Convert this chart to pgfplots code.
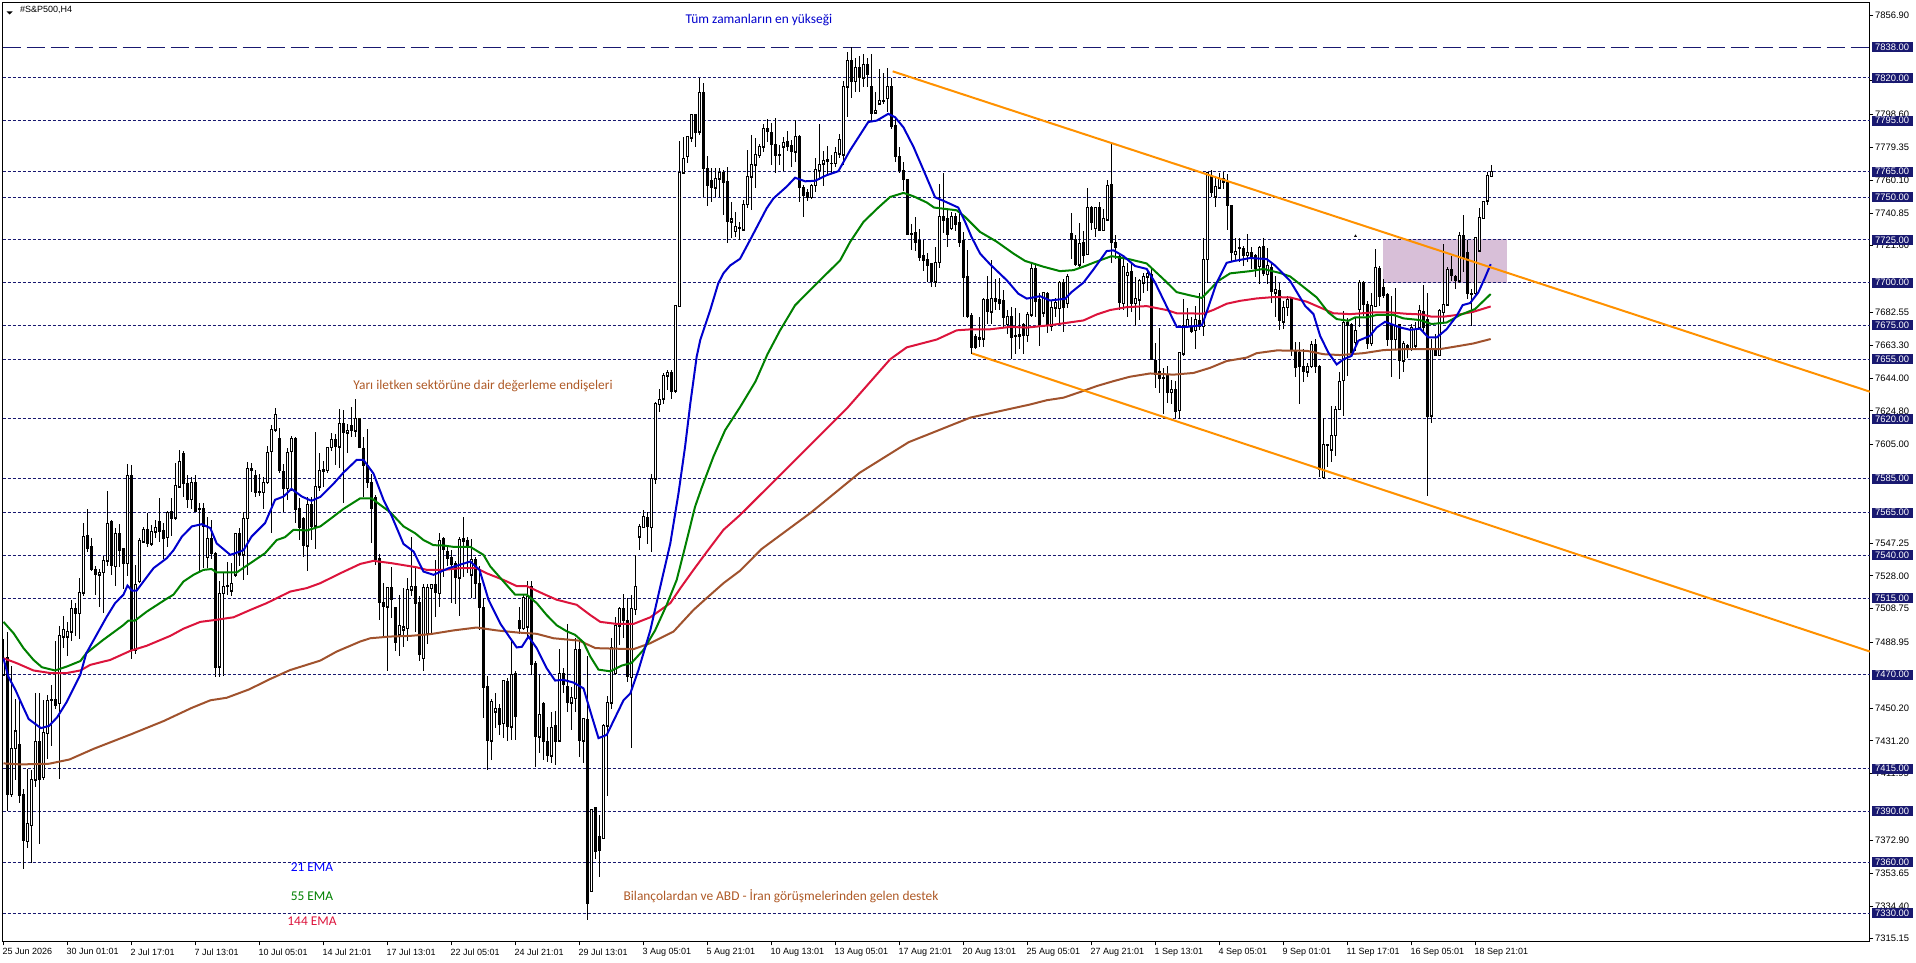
\documentclass[border=0pt]{standalone}
\usepackage{fontspec}
\setmainfont{Liberation Sans}
\newfontfamily\notes{Carlito}
\usepackage{pgfplots}
\usepackage{pgfplotstable}
\pgfplotsset{compat=1.18}
\definecolor{lvl}{RGB}{25,25,112}
\definecolor{emaA}{RGB}{0,0,205}
\definecolor{emaB}{RGB}{0,128,0}
\definecolor{emaC}{RGB}{220,20,60}
\definecolor{emaD}{RGB}{160,82,45}
\definecolor{trend}{RGB}{255,145,0}
\definecolor{zone}{RGB}{216,191,216}
\pgfplotstableread{
i o h l c
0 7470 7491 7470 7479
1 7480 7495 7390 7400
2 7400 7475 7398 7427
3 7427 7456 7408 7437
4 7429 7456 7395 7399
5 7400 7403 7356 7373
6 7372.4 7415 7368.5 7382.6
7 7381.8 7414 7359.7 7408.6
8 7408.4 7459 7404 7430.8
9 7431 7459 7371 7408.7
10 7410 7455 7408 7436.3
11 7435.7 7458 7420.5 7454.7
12 7455.7 7464 7428 7455
13 7455.7 7490 7450 7452
14 7453.3 7498.7 7409 7492.8
15 7492.4 7504.5 7485.6 7496.7
16 7492.4 7501 7481 7495.5
17 7495.3 7514 7490 7508.8
18 7509 7512 7493 7506
19 7506 7526.6 7491 7518.2
20 7518 7559 7516 7551
21 7551.4 7567 7541.7 7544
22 7545 7550 7531 7531.5
23 7531.9 7534 7517 7528.6
24 7528.6 7532 7510 7530
25 7530 7539.7 7506 7537
26 7537 7578 7534 7558.9
27 7559.8 7561 7528.6 7533.8
28 7533.5 7556 7522 7552.6
29 7552.6 7558.5 7533 7542.8
30 7544 7544 7520 7535
31 7535.4 7593.7 7528 7586.6
32 7586.6 7593 7479 7484.6
33 7484.6 7534.4 7482 7523
34 7524.7 7550 7524 7549
35 7548 7556.5 7547 7555
36 7555 7564.7 7545 7547
37 7546.8 7558 7545.6 7553.8
38 7554 7561 7550 7556.5
39 7559.6 7573.5 7548 7554
40 7554.6 7559 7537.8 7550
41 7550.7 7566 7545 7565
42 7565.5 7573.5 7551.4 7561.6
43 7562 7594 7561 7581
44 7580.4 7602 7580 7595
45 7599.5 7601.5 7574 7582
46 7582.3 7587 7567.7 7573
47 7573 7586 7567 7582.7
48 7583 7587 7565.7 7566
49 7567.5 7571 7530 7567
50 7567.7 7571 7532.5 7557
51 7539 7562.8 7532.5 7550
52 7550 7561 7538 7541
53 7541.3 7542 7468.5 7474
54 7474.8 7524.7 7468.5 7517.8
55 7517.8 7529.5 7469 7522
56 7522.3 7536.4 7517 7521.7
57 7519.4 7535.8 7516 7523.7
58 7528.6 7553.4 7527.6 7553
59 7553 7556 7533.5 7540.3
60 7540.3 7565.7 7525.6 7561.8
61 7561.8 7594.5 7528.6 7591
62 7591 7594 7577 7589.8
63 7587 7590 7574.5 7577
64 7577.6 7588 7575 7576.9
65 7576.9 7586 7567 7583
66 7583 7604 7582 7600.5
67 7601 7616.5 7553 7613.6
68 7613.6 7626.3 7612.6 7622.8
69 7608.7 7615 7588.6 7589.8
70 7589.4 7593.7 7565.7 7579.4
71 7579.4 7603 7572.6 7600.5
72 7601 7610 7578 7608.7
73 7608.3 7609.7 7559 7566.7
74 7567.7 7573.5 7549 7556.5
75 7561.5 7562.8 7539 7545.6
76 7545.6 7574.5 7531 7569.6
77 7569.6 7574.5 7549 7557
78 7557.3 7612.6 7543.6 7580.4
79 7580.4 7600 7578 7589.8
80 7590.5 7595.6 7580 7589
81 7589.8 7603.8 7588.6 7603.4
82 7603.4 7611.7 7601 7608
83 7608 7611 7593 7603.8
84 7603.8 7625.7 7591.5 7617.5
85 7617.5 7625 7571 7612
86 7612 7617 7600 7613.2
87 7616 7627 7609.7 7613.2
88 7613.2 7631.6 7609.7 7620.5
89 7620.5 7620.5 7603 7603
90 7602.9 7609.7 7574.5 7592.7
91 7593 7614 7579.4 7582.7
92 7582.9 7588 7547.5 7567.3
93 7574 7575.5 7534.4 7537.8
94 7538.3 7540.7 7502 7512.3
95 7512.5 7523.7 7493 7510
96 7510 7521.5 7472 7521
97 7521.3 7533 7503 7514.3
98 7509.6 7510 7484.2 7489
99 7493.4 7516.5 7481 7498.7
100 7496.3 7521 7486 7498
101 7497.3 7527 7490 7520.2
102 7519.8 7551 7516 7522
103 7522 7532.5 7495 7512
104 7512.3 7516 7478 7482
105 7479.7 7523 7472 7521.3
106 7494 7523 7488 7521
107 7520.8 7523.5 7494 7522.7
108 7523 7537.4 7504 7518
109 7517.8 7553.4 7510 7549
110 7550 7551 7527.6 7543.2
111 7542.3 7546 7533.5 7538.3
112 7539 7543 7512 7534.4
113 7535.4 7537 7511.6 7527
114 7527 7551 7504.5 7549.5
115 7550 7562.8 7527.6 7548
116 7549 7551 7529.5 7545
117 7528.6 7549.5 7515 7537.8
118 7537.4 7539 7515 7523.7
119 7523.7 7534 7496 7509.4
120 7509.6 7515 7444.5 7462.5
121 7463 7469.3 7414 7431.4
122 7431.4 7456 7420 7454.3
123 7448.4 7459 7438.6 7450.4
124 7450 7453 7434.7 7440.6
125 7441.6 7467 7432.8 7466.4
126 7466 7467.8 7431.4 7439.6
127 7439.6 7490.8 7432 7470
128 7471 7472 7432 7445.5
129 7502 7509.6 7494 7497
130 7497.3 7517 7496 7515.3
131 7498 7524.7 7492 7516
132 7521.7 7524.7 7470 7475.8
133 7476.8 7478 7416 7433.7
134 7433.7 7470 7424 7446.4
135 7453 7454 7420 7431
136 7431 7439.6 7419 7422.4
137 7422.4 7448.4 7418 7439.2
138 7440 7449 7417 7431
139 7431.4 7485 7430.8 7471
140 7471 7474 7459 7464
141 7463 7500 7448.4 7453.7
142 7453.7 7463 7437.7 7456.8
143 7456.2 7491.4 7448 7484.6
144 7484.6 7491 7421.6 7431.4
145 7431.4 7444.5 7418 7444.5
146 7444 7481 7326 7336
147 7343 7391.5 7343 7391
148 7392 7392 7362 7366.6
149 7375 7388 7351.5 7367
150 7374 7441 7373.4 7440
151 7440 7457.6 7399 7453.7
152 7453.7 7491.4 7450 7486
153 7471 7503.7 7470 7499
154 7498.6 7510 7487.5 7509
155 7509 7517.4 7491.4 7502
156 7502 7515 7466 7469
157 7468.5 7516.8 7427 7509
158 7508.4 7540 7505 7522
159 7551 7558.5 7543 7557
160 7556.5 7566.7 7556 7562.8
161 7562.4 7565.3 7546.7 7557
162 7556.5 7587.6 7542 7585
163 7585 7630 7582 7629
164 7628.6 7637.4 7624 7631.6
165 7631.8 7647 7629 7645.7
166 7645.5 7648.8 7637 7647
167 7647 7649 7631.6 7636
168 7636.7 7687 7635.5 7686.3
169 7686 7783 7686 7764.5
170 7764.5 7785.6 7764 7773
171 7774 7786 7770 7785.6
172 7785 7799 7782.7 7798.3
173 7798.3 7799 7779.7 7788
174 7788.5 7820 7786.6 7811.6
175 7811.6 7817 7750 7767
176 7767 7774 7745 7757
177 7759.6 7767 7747.5 7755.7
178 7755.7 7767.4 7750.4 7761
179 7761 7767 7750 7764.7
180 7764.7 7766 7739.7 7759
181 7759.4 7768 7723.4 7735.8
182 7735.8 7747.5 7726 7737.3
183 7730 7741.6 7727 7733
184 7732.4 7735.5 7725 7731.8
185 7731 7748.5 7730 7746
186 7746 7778 7743.6 7762.5
187 7762 7786.6 7742.6 7769
188 7769 7784.6 7755.7 7774.9
189 7774.6 7781 7773 7780
190 7779.7 7793 7776.8 7790.5
191 7790.5 7796 7782.7 7788.5
192 7788 7793.4 7769 7781
193 7781 7796.4 7764.5 7774.5
194 7775.3 7780.7 7769 7774.5
195 7779.7 7785.6 7765.7 7782.3
196 7783 7789 7777 7780
197 7780.5 7783.7 7768 7776.8
198 7776.8 7795.4 7771 7785.6
199 7785.6 7786.5 7747.5 7756
200 7756 7757 7738.7 7751
201 7753 7755 7748 7750
202 7750 7758 7749 7757
203 7757 7773 7753 7766.4
204 7766 7793 7760 7769.4
205 7769.6 7777.4 7756.7 7771.5
206 7772.3 7780 7763 7771
207 7770 7775 7763.6 7769.6
208 7770 7779.7 7768 7776.4
209 7775.6 7787 7773 7783.9
210 7775 7818 7769 7815
211 7815 7835 7797 7830
212 7830 7838 7808 7818
213 7818 7832 7812 7826
214 7826 7833 7812 7820
215 7820 7834 7815 7828
216 7828 7832 7815 7822
217 7815 7834 7795 7799
218 7799.5 7812 7799 7801
219 7805 7825 7805 7807
220 7807 7823 7805 7806
221 7808 7826 7800 7815
222 7815 7820 7790 7791.7
223 7792.3 7797 7771 7773.7
224 7774 7779.6 7764 7766
225 7766 7770.8 7754 7760.6
226 7760.6 7761 7727.7 7728.3
227 7729 7734.6 7719 7728.3
228 7729.3 7738.5 7718.6 7723.8
229 7724.4 7731.7 7712.7 7715
230 7716 7724.8 7707 7713
231 7713.7 7717.4 7700.6 7709.8
232 7711 7711.5 7697.4 7700.4
233 7700.4 7721 7697.4 7712
234 7712 7757.7 7708.6 7738.9
235 7738.9 7764.3 7729 7736.5
236 7737.5 7744 7721 7728.3
237 7732 7741.4 7730.7 7738.9
238 7738.9 7741 7730 7734
239 7735 7743.4 7721 7723.8
240 7724.8 7729.7 7679.9 7702.7
241 7703.7 7719 7679.3 7679.9
242 7680.8 7682 7658 7662
243 7668.5 7670 7661 7662
244 7667.7 7680 7662 7666.6
245 7667 7691 7662 7690.2
246 7690.2 7703.7 7676 7682.8
247 7682.8 7713.4 7676 7690.6
248 7690.6 7702 7684 7689.2
249 7690 7702.6 7683.8 7688
250 7689.2 7695.5 7674 7679.8
251 7675.5 7683.8 7670 7680
252 7679.9 7685.7 7655.4 7668
253 7669 7685 7658 7668.5
254 7669.3 7682 7661 7668.6
255 7675.6 7676.5 7658 7669
256 7669 7683 7665 7681.4
257 7681 7710.7 7680 7708.3
258 7708.5 7711.5 7680 7689
259 7690 7694 7662.8 7674.5
260 7682.3 7694.5 7680 7694
261 7693.6 7694.5 7670.6 7674.9
262 7674.5 7690 7671.5 7685.2
263 7685.2 7691 7680 7688.6
264 7685 7701 7676.4 7700
265 7700 7701.9 7671 7685.2
266 7688 7704.8 7685 7703.4
267 7729 7741 7713.6 7725.3
268 7725 7728 7709.7 7710.6
269 7710.6 7734.7 7707.7 7723
270 7723.7 7730 7711.6 7716
271 7716.5 7755.6 7716 7743.9
272 7743.9 7745 7731 7735.5
273 7732 7744.5 7727 7743.9
274 7743.9 7747 7730.3 7730.8
275 7730.8 7743 7730 7737.4
276 7737 7760 7736.5 7757
277 7757.6 7781 7711.6 7723.4
278 7723.4 7728 7714 7720.4
279 7715.5 7716.5 7684 7688.6
280 7687.8 7716 7684 7709.7
281 7704.4 7711.6 7680 7705.8
282 7706.5 7711.6 7683 7687.8
283 7687.8 7703 7674.5 7690.5
284 7690 7702 7678 7701.5
285 7700 7705.7 7694 7703.4
286 7703.4 7707.8 7695 7705.4
287 7704.8 7707.8 7654.5 7655
288 7654.5 7664.3 7638.3 7646
289 7648 7673.5 7635.4 7644
290 7644.6 7650 7622.7 7643.6
291 7645.5 7651 7629.5 7635.8
292 7635.8 7642.8 7629 7637.3
293 7637.3 7642 7620.7 7624.6
294 7625 7659 7620 7658.8
295 7658.3 7690.5 7657 7674.9
296 7674.5 7685 7674 7678.4
297 7673.5 7680 7670.6 7671.6
298 7672 7686 7660.8 7678.4
299 7677.8 7693.8 7672 7674
300 7674.5 7726.3 7668.6 7713.6
301 7713.6 7765 7700 7764.4
302 7762.8 7766 7750 7753
303 7750.3 7762 7744.5 7756.6
304 7755.6 7764 7755 7761
305 7761 7765 7755 7758.5
306 7758.5 7763.8 7731 7745
307 7745 7745.5 7712 7717.5
308 7716.5 7726.3 7712.6 7718.5
309 7720.4 7726 7712 7719.8
310 7720 7721.5 7709.5 7715.7
311 7716 7728.4 7711.8 7717.7
312 7717.7 7720.6 7707.9 7714.6
313 7715.7 7717 7703.4 7708.3
314 7709.5 7721.5 7699 7720.6
315 7721.2 7726 7704 7705.6
316 7705 7720 7699 7709.9
317 7708.9 7711.8 7688 7695
318 7694 7704 7680 7696
319 7695.6 7699.7 7672.3 7677.6
320 7677 7689.3 7672.7 7685.4
321 7685.4 7692.3 7680.5 7690.3
322 7691.3 7691.5 7657 7660
323 7660 7665 7644.4 7650.2
324 7659 7665 7628.7 7650.6
325 7651 7661 7641.4 7648
326 7647.7 7653 7644.4 7650.8
327 7651 7665.9 7650 7663.5
328 7663.5 7666.9 7647 7650.8
329 7650.8 7651.5 7585.7 7590.6
330 7585.7 7620.4 7585 7605.3
331 7604.9 7605.6 7592 7605
332 7602 7627.4 7594.5 7610.6
333 7610.6 7627.8 7598 7625.8
334 7625.8 7647.3 7625 7642
335 7642.8 7683.5 7621.5 7676.6
336 7676.6 7679 7645 7674.7
337 7675.7 7676.5 7658 7659
338 7665 7680 7660 7672
339 7684.5 7701.7 7673.7 7700
340 7700 7700.8 7680.5 7687
341 7687.4 7689 7661 7664.5
342 7664.5 7694 7663 7686.4
343 7686 7719.6 7685.5 7709
344 7708.3 7710 7686 7692
345 7697.2 7702 7691 7692.7
346 7693.2 7694 7663 7666.9
347 7675.7 7692 7644.4 7666.9
348 7666.9 7697 7661 7674.7
349 7675.3 7676 7643.4 7654.2
350 7654.2 7666 7647.7 7664.5
351 7663 7664 7656 7661
352 7661 7675.5 7660 7673.7
353 7663 7677 7661 7672.7
354 7673.7 7686.8 7672.7 7683.5
355 7682.9 7698.5 7671.7 7673.7
356 7678.2 7693.7 7575 7621.5
357 7621.9 7667 7617.6 7661
358 7661 7669.8 7657 7657.5
359 7657.5 7684.5 7657 7683.5
360 7682.5 7722.6 7676.6 7687.4
361 7687 7709 7686.4 7707.5
362 7707.5 7715.3 7701 7704.4
363 7703.4 7704.4 7696 7701
364 7701 7729.8 7700 7727.9
365 7727.9 7739.6 7706 7714.8
366 7717.7 7725 7690.3 7693.6
367 7693.8 7696 7674.7 7693.3
368 7693.6 7727 7692.6 7726.5
369 7718.7 7744 7717.7 7738.2
370 7737.8 7748 7737 7747.6
371 7748 7765 7745.4 7762.7
372 7762.3 7769 7761.7 7765
}\candles
\pgfplotstableread{
i p
0 7479.5
1.2 7469
3 7461
4.8 7451.6
6.3 7444
9.35 7438.7
11.4 7440
13.4 7445
15.8 7454
19.2 7470
20.7 7482.6
24.2 7497.3
25.8 7504
27.9 7512
30 7517
31 7522.3
32.1 7519.4
33.3 7519.4
37.5 7532.5
40.8 7538.3
42.5 7543
44.6 7551
47.1 7557
49.6 7558.3
51.7 7556
53.3 7547
56.7 7540.3
60 7543
62 7551
65.4 7559
67.9 7572.6
70 7574.5
72 7579
74.6 7574.5
77 7572
79.2 7574.3
82.5 7582
85 7588.6
88.3 7596
90 7596
92.5 7588
95 7572.6
97.1 7562.8
100 7546.7
102.5 7542.3
105 7530.5
107.5 7528.6
111.3 7532.5
116.7 7536.4
119 7531.5
121.25 7514
124.2 7500
126.7 7491.4
128.3 7486
129.6 7486.4
131.25 7492.4
133.3 7485.6
135.8 7473.8
137.9 7466.6
140 7467
142.5 7465.4
145 7462
147.1 7445.5
148.75 7432.8
150.8 7434.7
155 7455
156.7 7459
158.75 7472.8
161.7 7496
164.2 7521.7
166.7 7547
168.75 7576.4
170.4 7603.8
171.7 7629
173.3 7656.6
174.2 7666.4
176.7 7684
178.7 7699.6
180 7705.5
181.65 7710
184.15 7714
186.65 7725
190.8 7743.6
192.5 7749.4
195.8 7756.3
197.9 7761.5
200.4 7759.4
202.9 7759.7
205.8 7763
208.7 7765.3
211.65 7777.6
216.2 7794.2
218.3 7795
221.2 7799
222.9 7797
225 7791
227.5 7779.6
230 7766
232.9 7750
234.95 7748
238.7 7744
240.4 7735.6
242 7726.8
244.15 7717
246.65 7710.7
250.8 7701.4
253.7 7693.5
255.8 7690.6
259.15 7692
261.65 7689.5
265.4 7690.5
267 7694.4
270 7700
272.5 7707.7
275.8 7718.5
277.5 7718.9
280 7715.5
282.9 7709.7
285.8 7708
287.9 7700
290.8 7686
293.3 7674
295.8 7674
299.6 7675
300.4 7680
303.3 7700
305.8 7711.6
307.5 7712.6
311.65 7714.4
315.8 7713.8
317.9 7710
321.65 7701
325.4 7686.4
327.5 7681.5
329.15 7668.8
331.2 7659
333.3 7652
335 7655
337 7657
338.7 7665.9
341.65 7668.8
343.3 7673.7
345.4 7677
349.15 7673.7
351.65 7672.3
354.15 7673
356.2 7667.8
358.3 7667.8
360.8 7672.7
363.3 7680.5
364.8 7686.8
366.65 7688
368.7 7694.2
370.4 7703
371.8 7710.8
}\emaone
\pgfplotstableread{
i p
0 7501
2.5 7494.4
5 7485.6
7.5 7478.7
9.6 7474.4
12.9 7472.5
15.8 7474.8
19.2 7478
20.7 7482.6
24.9 7490.4
29.9 7499
31.25 7501.8
32.9 7501.8
35.8 7507
40.4 7514
42.5 7517
45 7524.7
47.5 7528.6
50 7531.5
52 7532
53.3 7530
58.3 7530
61.7 7535.4
65.4 7541.3
68.3 7549
70.4 7550.7
72.5 7555
75.8 7554.6
79.2 7557
82.5 7562.8
85 7567.3
89.2 7573.5
92 7573.5
94.2 7569.6
96.7 7565.3
100 7557
102.9 7553
105 7549
107.5 7546
110 7545.8
112.5 7545
116.7 7545
120 7540.3
121.7 7533.5
125 7524.7
127.9 7517
130.8 7517
133.3 7512
135.8 7505
138.3 7499
140.8 7495.5
142.9 7493.4
145 7489
146.7 7480.7
148.75 7473
151.7 7472
154.6 7475.4
157 7476.9
160 7484.6
162.9 7496
165.8 7511
168.3 7525.6
170.4 7545
172.9 7568.6
174.6 7580
177.5 7598
180.4 7613.4
184.15 7627
188 7642
191 7658
194.15 7672
197.9 7686.7
203.7 7700.4
209.15 7713
211.65 7723.8
215 7735.6
218.7 7744
221.65 7750.2
225 7752.6
227.5 7750.6
230.8 7747
232.65 7744
238.3 7742.4
240.4 7738.5
244.15 7729.7
248.3 7724
252.5 7717
255.4 7712.7
260 7709.3
264.15 7706.7
267.5 7707.3
270.4 7709.7
272.9 7712
277 7715.5
281.65 7713.6
285.8 7711.2
290 7702
293.3 7694.4
296.65 7692.5
299.6 7691
303.7 7701
306.65 7705.4
311.65 7706.7
315 7708
319.15 7705.6
321.65 7703.6
326.2 7695.2
328.3 7691.3
331.2 7682.5
333.3 7678.6
336.2 7677.6
337.9 7679.6
340.8 7679.6
343.3 7681
347.5 7681
350 7679
354.15 7678
357 7675.7
360.8 7676.6
364.15 7681
367.9 7684.5
371.8 7693.3
}\ematwo
\pgfplotstableread{
i p
0 7479.7
3.3 7476.8
7.5 7472.5
11.7 7471
15.8 7471
19.2 7472.5
21.7 7475.8
26.7 7478.7
31.7 7484
35.8 7487
41.7 7492.8
45 7497
49.2 7501
52.5 7502
57.5 7503.7
61.7 7508
65.8 7512
71.7 7518.8
75.8 7520.8
79.2 7523.7
84.2 7529.5
89.2 7535
92.5 7536.8
97.1 7535.4
103.3 7533
105.8 7531.5
110 7531.5
114.2 7532.5
118.3 7532.5
120.8 7529.5
125 7525.6
128.3 7522
130.8 7522
135 7517.4
138.3 7514
143.3 7511
146.7 7505
149.2 7501
153.3 7499.8
157.5 7499.8
161.7 7503.7
166.7 7512
169.2 7520.7
172.5 7531.5
175.8 7542
180 7555
184.15 7563.7
198.7 7597.7
211 7626.6
221.65 7655
225.8 7662
233.3 7666.6
238.3 7672
242 7672.6
246.65 7672.6
251.65 7674
255.8 7673.6
261.65 7675
265.8 7676.4
270 7677.8
273.3 7681.3
276.65 7683.9
280.8 7685.6
285.8 7686.2
290.8 7683.9
293.3 7682
300 7681.8
302.5 7684
305.8 7687.6
309.15 7689.3
313.3 7690.7
317.5 7691.5
321.65 7691.3
325.8 7688.8
329.15 7685.4
332.5 7682
336.65 7681.5
342.5 7682.5
346.65 7682.5
350.8 7681.7
354.6 7681.3
357 7680
360 7680
363.3 7681
367.5 7682.9
371.8 7686
}\emathree
\pgfplotstableread{
i p
0 7418
4.25 7417.4
11.4 7417.8
16.5 7420.3
22.6 7426.6
31.8 7435
40 7442.8
47.1 7450.6
51.7 7455
55.8 7456.5
61.4 7461.4
66.5 7467.3
71.6 7472.7
79.2 7478.3
83.3 7483.6
89.2 7489.5
91.7 7491.4
96.7 7492.4
101.7 7492.8
106.7 7493.8
112.5 7496
118.3 7497.7
123.3 7496
128.3 7494.8
133.3 7494
137.5 7491.4
143.9 7490
148 7485.6
157.5 7485
161.7 7488.5
167.5 7495.3
172.5 7508
175.8 7515
180 7523.7
184.15 7531
189.5 7543.7
201.8 7565
214 7588.4
226.3 7606.4
241.7 7620.8
256.65 7628.5
260.8 7631
265 7632.5
269.15 7635.8
273.3 7639.3
277.5 7642.2
281.65 7644.8
286.65 7646.7
292.5 7646
297.5 7647
301.65 7650
305.8 7654
310.8 7656
313.3 7658.6
318.3 7660.2
325.8 7660
330 7658
334.15 7657.5
340 7658.6
345 7660.4
350.8 7661
359.15 7661
363.3 7662.6
367.5 7664.3
371.8 7666.9
}\emafour
\begin{document}
\begin{tikzpicture}[x=1pt,y=1pt]
\path[use as bounding box] (0,0) rectangle (1916,963);
\begin{axis}[
  name=main, at={(2.5pt,21pt)}, anchor=south west,
  scale only axis, width=1867.5pt, height=939.7pt,
  xmin=-0.25, xmax=466.625, ymin=7313.25, ymax=7864.4,
  axis line style={black,line width=1pt},
  tick align=outside, major tick length=3.5pt,
  tick style={black,line width=0.8pt},
  xtick pos=bottom, ytick pos=right, yticklabel pos=right,
  xtick={0,16,32,48,64,80,96,112,128,144,160,176,192,208,224,240,256,272,288,304,320,336,352,368},
  xticklabels={25 Jun 2026,30 Jun 01:01,2 Jul 17:01,7 Jul 13:01,10 Jul 05:01,14 Jul 21:01,17 Jul 13:01,22 Jul 05:01,24 Jul 21:01,29 Jul 13:01,3 Aug 05:01,5 Aug 21:01,10 Aug 13:01,13 Aug 05:01,17 Aug 21:01,20 Aug 13:01,25 Aug 05:01,27 Aug 21:01,1 Sep 13:01,4 Sep 05:01,9 Sep 01:01,11 Sep 17:01,16 Sep 05:01,18 Sep 21:01},
  xticklabel style={font=\fontsize{9}{10}\selectfont,anchor=north west,inner sep=0pt,xshift=-1pt,yshift=-3pt},
  ytick={7856.9,7818.7,7798.6,7779.35,7760.1,7740.85,7721.6,7682.55,7663.3,7644,7624.8,7605,7547.25,7528,7508.75,7488.95,7450.2,7431.2,7411.95,7372.9,7353.65,7334.4,7315.15},
  yticklabels={7856.90,7818.70,7798.60,7779.35,7760.10,7740.85,7721.60,7682.55,7663.30,7644.00,7624.80,7605.00,7547.25,7528.00,7508.75,7488.95,7450.20,7431.20,7411.95,7372.90,7353.65,7334.40,7315.15},
  yticklabel style={font=\fontsize{9.4}{10}\selectfont,anchor=west,inner sep=0pt,minimum width=41pt,minimum height=10pt,align=center,xshift=-2pt},
]
% level zone
\addplot[draw=none,fill=zone,forget plot] coordinates {(345,7700) (375.8,7700) (375.8,7725.5) (345,7725.5)} --cycle;
% levels
\addplot[lvl,line width=1pt,dash pattern=on 18pt off 6pt,forget plot] coordinates {(-0.25,7838) (466.625,7838)};
\foreach \lv in {7820,7795,7765,7750,7725,7700,7675,7655,7620,7585,7565,7540,7515,7470,7415,7390,7360,7330}{
  \edef\tmp{\noexpand\addplot[lvl,line width=1pt,dash pattern=on 3pt off 2pt,forget plot] coordinates {(-0.25,\lv) (466.625,\lv)};}\tmp
}
% candles
\addplot[draw=none,forget plot,error bars/.cd,y dir=both,y explicit,error mark=none,error bar style={draw=black,line width=1pt,line cap=butt}]
 table[x=i,y=o,y error plus expr={\thisrow{h}-\thisrow{o}},y error minus expr={\thisrow{o}-\thisrow{l}}]{\candles};
\addplot[draw=none,forget plot,error bars/.cd,y dir=both,y explicit,error mark=none,error bar style={draw=black,line width=3pt,line cap=butt}]
 table[x=i,y=o,y error plus expr={max(\thisrow{c}-\thisrow{o},0)+0.3},y error minus expr={max(\thisrow{o}-\thisrow{c},0)+0.3}]{\candles};
\addplot[draw=none,forget plot,error bars/.cd,y dir=plus,y explicit,error mark=none,error bar style={draw=white,line width=1pt,line cap=butt}]
 table[x=i,y expr={\thisrow{o}+0.3},y error plus expr={max(\thisrow{c}-\thisrow{o}-0.6,0)}]{\candles};
% moving averages
\addplot[emaD,line width=2pt,forget plot] table[x=i,y=p]{\emafour};
\addplot[emaC,line width=2pt,forget plot] table[x=i,y=p]{\emathree};
\addplot[emaB,line width=2pt,forget plot] table[x=i,y=p]{\ematwo};
\addplot[emaA,line width=2pt,forget plot] table[x=i,y=p]{\emaone};
% trend channel
\addplot[trend,line width=2pt,forget plot] coordinates {(222.3,7823.9) (466.625,7636)};
\addplot[trend,line width=2pt,forget plot] coordinates {(242.15,7658.5) (466.625,7483.6)};
\addplot[only marks,mark=triangle*,mark size=1.2pt,black,forget plot] coordinates {(338,7727.3)};
\end{axis}
\begin{axis}[
  at={(2.5pt,21pt)}, anchor=south west,
  scale only axis, width=1867.5pt, height=939.7pt,
  xmin=-0.25, xmax=466.625, ymin=7313.25, ymax=7864.4,
  hide x axis, axis y line*=right, axis line style={draw=none},
  tick style={draw=none}, major tick length=3.5pt, tick align=outside,
  ytick={7838,7820,7795,7765,7750,7725,7700,7675,7655,7620,7585,7565,7540,7515,7470,7415,7390,7360,7330},
  yticklabels={7838.00,7820.00,7795.00,7765.00,7750.00,7725.00,7700.00,7675.00,7655.00,7620.00,7585.00,7565.00,7540.00,7515.00,7470.00,7415.00,7390.00,7360.00,7330.00},
  yticklabel style={font=\fontsize{9.4}{10}\selectfont,anchor=west,inner sep=0pt,minimum width=41pt,minimum height=10pt,align=center,xshift=-2pt,fill=lvl,text=white},
]
\addplot[draw=none,forget plot] coordinates {(0,7500)};
\end{axis}
\fill[black] (6.7,951.5) -- (12.7,951.5) -- (9.7,948.5) -- cycle;
\node[anchor=west,inner sep=0pt,font=\fontsize{9}{10}\selectfont] at (20,953) {\#S\&P500,H4};
\node[font=\notes\fontsize{13.4}{15}\selectfont,text=blue!80!black] at (759,943) {Tüm zamanların en yükseği};
\node[font=\notes\fontsize{13.4}{15}\selectfont,text=emaD!85!orange] at (483,577) {Yarı iletken sektörüne dair değerleme endişeleri};
\node[font=\notes\fontsize{13.4}{15}\selectfont,text=emaD!85!orange] at (781,67) {Bilançolardan ve ABD - İran görüşmelerinden gelen destek};
\node[font=\notes\fontsize{13.4}{15}\selectfont,text=blue] at (312,96) {21 EMA};
\node[font=\notes\fontsize{13.4}{15}\selectfont,text=emaB] at (312,67) {55 EMA};
\node[font=\notes\fontsize{13.4}{15}\selectfont,text=emaC] at (312,42) {144 EMA};
\end{tikzpicture}
\end{document}
